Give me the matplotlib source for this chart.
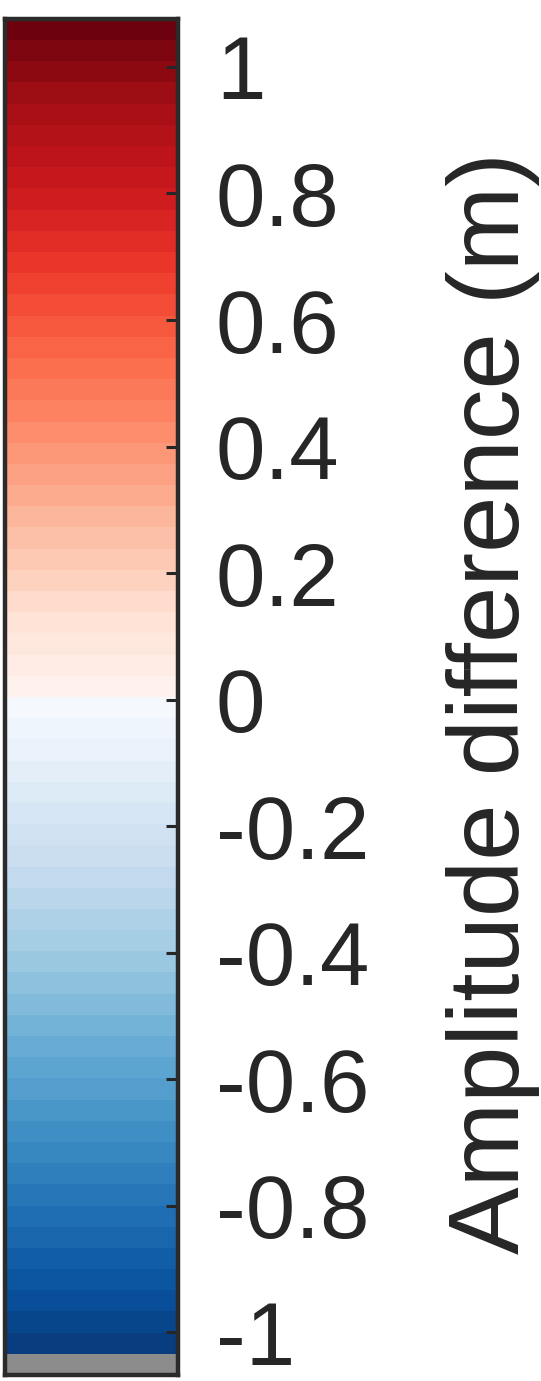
import numpy as np
import matplotlib.pyplot as plt
from matplotlib.colors import ListedColormap

plt.rcParams['font.family'] = ['Liberation Sans', 'DejaVu Sans']

# colorbar data
tick_values = [1, 0.8, 0.6, 0.4, 0.2, 0, -0.2, -0.4, -0.6, -0.8, -1]
tick_labels = ['1', '0.8', '0.6', '0.4', '0.2', '0', '-0.2', '-0.4', '-0.6', '-0.8', '-1']
clim = (-1.068, 1.076)
n_colors = 64
missing_color = '#8c8c8c'   # first colormap entry (gray)
label = 'Amplitude difference (m)'

edges = np.linspace(clim[0], clim[1], n_colors + 1)
centers = 0.5 * (edges[:-1] + edges[1:])
scale = max(abs(clim[0]), abs(clim[1]))
blues = plt.get_cmap('Blues')
reds = plt.get_cmap('Reds')
colors = [missing_color]
for c in centers[1:]:
    colors.append(blues(-c / scale) if c < 0 else reds(c / scale))
cmap = ListedColormap(colors)

fig = plt.figure(figsize=(5.41, 13.81), dpi=100)
ax = fig.add_axes([0.009, 0.0043, 0.3207, 0.982])

ax.pcolormesh([0, 1], edges, np.arange(n_colors).reshape(-1, 1),
              cmap=cmap, vmin=-0.5, vmax=n_colors - 0.5)
ax.set_xlim(0, 1)
ax.set_ylim(clim)
ax.set_xticks([])
ax.yaxis.tick_right()
ax.set_yticks(tick_values)
ax.set_yticklabels(tick_labels)
ax.tick_params(axis='y', direction='in', length=9, width=2.2, color='#262626',
               labelsize=64, labelcolor='#262626', pad=27)
for sp in ax.spines.values():
    sp.set_linewidth(3.2)
    sp.set_edgecolor('#2b2b2b')

fig.text(0.912, 0.491, label, rotation=90, ha='center', va='center',
         fontsize=73, color='#262626')

fig.savefig('out.png', dpi=100)
